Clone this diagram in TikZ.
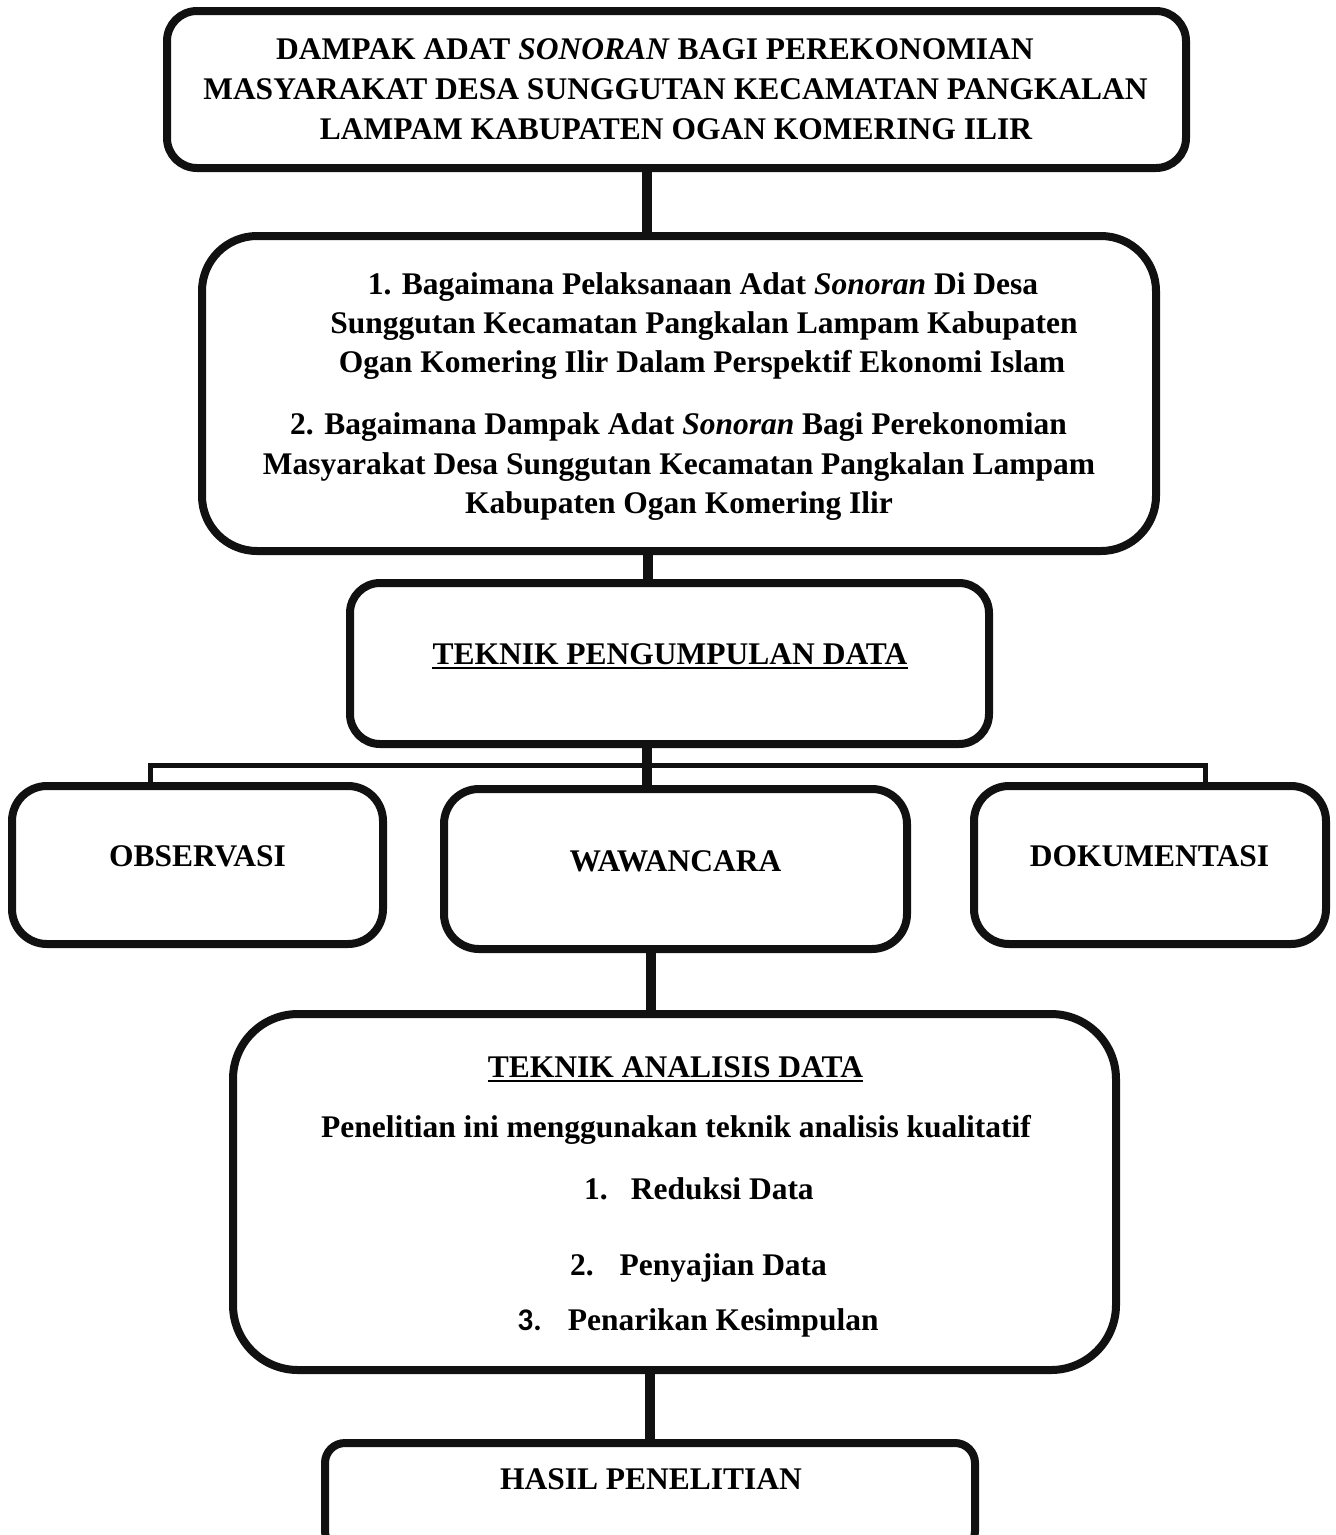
\documentclass[tikz,border=0pt]{standalone}
\usepackage{fontspec}
\setmainfont{Liberation Serif}
\newfontfamily\calfont{Carlito}
\definecolor{ink}{HTML}{111111}
\begin{document}
\begin{tikzpicture}[x=1pt,y=-1pt,
  box/.style={draw=ink, line width=8pt, rounded corners=#1, inner sep=0pt, outer sep=0pt},
  txt/.style={inner sep=0pt, anchor=base, font=\bfseries\fontsize{31.5}{40}\selectfont},
  trunk/.style={draw=ink, line width=10pt},
  branch/.style={draw=ink, line width=5pt, line join=miter},
  uline/.style={draw=black, line width=2.4pt}]
\clip (0,0) rectangle (1336,1535);
% boxes
\node[box=30pt, minimum width=1019pt, minimum height=157pt] (title) at (676.5,89.5) {};
\node[box=55pt, minimum width=954pt, minimum height=315pt] (quest) at (679,393.5) {};
\node[box=30pt, minimum width=639pt, minimum height=161pt] (tpd) at (669.5,663.5) {};
\node[box=35pt, minimum width=371pt, minimum height=158pt] (obs) at (197.5,865) {};
\node[box=35pt, minimum width=463pt, minimum height=160pt] (waw) at (675.5,869) {};
\node[box=35pt, minimum width=352pt, minimum height=158pt] (dok) at (1150,865) {};
\node[box=65pt, minimum width=883pt, minimum height=356pt] (tad) at (674.5,1192) {};
\node[box=20pt, minimum width=650pt, minimum height=108pt] (hasil) at (650,1497) {};
% connectors
\coordinate (c1) at (647,0);
\coordinate (c2) at (648,0);
\coordinate (c3) at (647,0);
\coordinate (c4) at (651,0);
\coordinate (c5) at (650,0);
\coordinate (by) at (0,765);
\coordinate (bl) at (150,0);
\coordinate (br) at (1205,0);
\draw[trunk] (title.south -| c1) -- (quest.north -| c1);
\draw[trunk] (quest.south -| c2) -- (tpd.north -| c2);
\draw[trunk] (tpd.south -| c3) -- (waw.north -| c3);
\draw[branch] (obs.north -| bl) -- (by -| bl) -- (by -| br) -- (dok.north -| br);
\draw[trunk] (waw.south -| c4) -- (tad.north -| c4);
\draw[trunk] (tad.south -| c5) -- (hasil.north -| c5);
% title text
\node[txt] (h1) at (655,59) {DAMPAK ADAT \textit{SONORAN} BAGI PEREKONOMIAN};
\node[txt] (h2) at (675.5,99) {MASYARAKAT DESA SUNGGUTAN KECAMATAN PANGKALAN};
\node[txt] (h3) at (676,139) {LAMPAM KABUPATEN OGAN KOMERING ILIR};
% questions
\node[txt] (q1) at (703,294) {1. Bagaimana Pelaksanaan Adat \textit{Sonoran} Di Desa};
\node[txt] (q2) at (704,333) {Sunggutan Kecamatan Pangkalan Lampam Kabupaten};
\node[txt] (q3) at (702,372) {Ogan Komering Ilir Dalam Perspektif Ekonomi Islam};
\node[txt] (q4) at (678.5,434) {2. Bagaimana Dampak Adat \textit{Sonoran} Bagi Perekonomian};
\node[txt] (q5) at (679,474) {Masyarakat Desa Sunggutan Kecamatan Pangkalan Lampam};
\node[txt] (q6) at (679,513) {Kabupaten Ogan Komering Ilir};
% teknik pengumpulan data
\node[txt] (tpdt) at (670,664) {TEKNIK PENGUMPULAN DATA};
\draw[uline] ([yshift=-4pt]tpdt.base west) -- ([yshift=-4pt]tpdt.base east);
\node[txt] (obst) at (197.5,866) {OBSERVASI};
\node[txt] (wawt) at (675.5,871) {WAWANCARA};
\node[txt] (dokt) at (1149.5,866) {DOKUMENTASI};
% teknik analisis data
\node[txt] (tadt) at (675.5,1077) {TEKNIK ANALISIS DATA};
\draw[uline] ([yshift=-4pt]tadt.base west) -- ([yshift=-4pt]tadt.base east);
\node[txt] (pen) at (676,1137) {Penelitian ini menggunakan teknik analisis kualitatif};
\node[txt] (i1) at (699,1199) {1.\hspace{23pt}Reduksi Data};
\node[txt] (i2) at (698.5,1275) {2.\hspace{26pt}Penyajian Data};
\node[txt] (i3) at (698,1330) {{\calfont 3.}\hspace{26pt}Penarikan Kesimpulan};
% hasil
\node[txt] (hast) at (651,1489) {HASIL PENELITIAN};
\end{tikzpicture}
\end{document}
